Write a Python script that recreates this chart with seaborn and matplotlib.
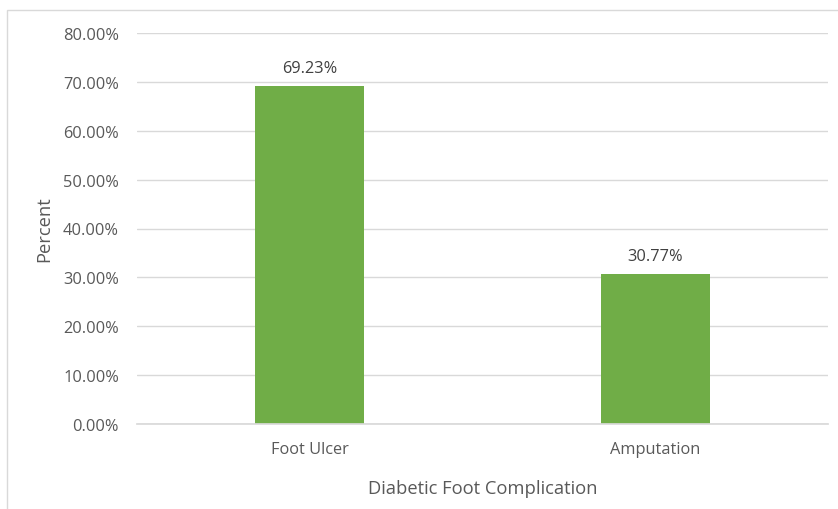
import matplotlib.pyplot as plt
import matplotlib.ticker as mtick
from matplotlib.patches import Rectangle
import pandas as pd
import seaborn as sns

#%% DATOS
# = = = = =

complicaciones = ['Foot Ulcer', 'Amputation']
porcentajes = [69.23, 30.77]
yticks = [0, 10, 20, 30, 40, 50, 60, 70, 80]

df = pd.DataFrame({'complicacion': complicaciones, 'porcentaje': porcentajes})

#%% GRAFICO
# = = = = = =

sns.set_theme(style='white')
plt.rcParams['font.family'] = ['Open Sans', 'DejaVu Sans']

gris_texto = '#595959'
verde = '#70AD47'

fig = plt.figure(figsize=(8.38, 5.10), dpi=100)
ax = fig.add_axes([137/838, 1 - 425/510, (828 - 137)/838, (425 - 34)/510])

sns.barplot(data=df, x='complicacion', y='porcentaje', color=verde,
            saturation=1, width=0.315, linewidth=0, ax=ax)

ax.set_ylim(0, 80)
ax.set_xlim(-0.5, 1.5)
ax.set_yticks(yticks)
ax.yaxis.set_major_formatter(mtick.FuncFormatter(lambda v, p: f'{v:.2f}%'))

ax.grid(axis='y', color='#D9D9D9', linewidth=1)
ax.set_axisbelow(True)
for s in ['top', 'right', 'left']:
    ax.spines[s].set_visible(False)
ax.spines['bottom'].set_color('#D9D9D9')

ax.tick_params(axis='y', length=0, pad=13, labelsize=11.8, labelcolor=gris_texto)
ax.tick_params(axis='x', length=0, pad=12, labelsize=11.8, labelcolor=gris_texto)

ax.set_xlabel('Diabetic Foot Complication', fontsize=13.2, color=gris_texto, labelpad=16)
ax.set_ylabel('Percent', fontsize=13.2, color=gris_texto, labelpad=7)

for c in ax.containers:
    ax.bar_label(c, fmt='%.2f%%', padding=7, fontsize=11.8, color='#404040')

# marco del area del grafico (estilo Excel)
fig.patches.append(Rectangle((7/838, -0.1), 1.2, 1 - 11/510 + 0.1,
                             transform=fig.transFigure, fill=False,
                             edgecolor='#D9D9D9', linewidth=1))

plt.savefig('out.png', dpi=100)
